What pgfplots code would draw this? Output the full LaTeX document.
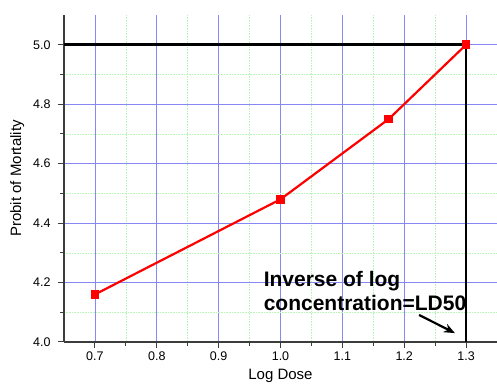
\documentclass[border=0pt]{standalone}
\usepackage{pgfplots}
\pgfplotsset{compat=1.18}
\usetikzlibrary{arrows.meta}
\usepackage{fontspec}
\setmainfont{Liberation Sans}
\definecolor{majgrid}{RGB}{135,135,245}
\definecolor{mingrid}{RGB}{185,245,185}
\definecolor{axgray}{RGB}{60,60,60}
\begin{document}
\begin{tikzpicture}[x=1pt,y=1pt]
\begin{axis}[
  at={(0,0)}, anchor=south west,
  scale only axis, width=433pt, height=327pt,
  xmin=0.65, xmax=1.35, ymin=4.0, ymax=5.1,
  xtick={0.7,0.8,...,1.31}, ytick={4.0,4.2,...,5.01},
  minor x tick num=1, minor y tick num=1,
  axis lines*=left,
  axis line style={axgray, line width=1.4pt},
  tick style={axgray, line width=1pt},
  tick align=outside,
  major tick length=6pt, minor tick length=4pt,
  grid=both,
  major grid style={majgrid, line width=0.6pt, solid},
  minor grid style={mingrid, line width=0.6pt, densely dotted},
  tick label style={font=\fontsize{12.5}{14}\selectfont},
  yticklabel style={xshift=-4pt},
  /pgf/number format/.cd, fixed, fixed zerofill, precision=1, assume math mode=true,
  /pgfplots/.cd,
  xlabel={Log Dose}, ylabel={Probit of Mortality},
  label style={font=\fontsize{15}{17}\selectfont},
  xlabel style={yshift=-2pt},
  ylabel shift=2pt,
  clip=false,
]
\addplot[red, line width=2.2pt, mark=square*, mark size=3.2pt, mark options={solid}] coordinates {
(0.7,4.16) (1.0,4.48) (1.175,4.75) (1.3,5.0)};
\addplot[black, line width=2.8pt, no marks] coordinates {(0.65,5.0) (1.3,5.0) (1.3,4.0)};
\node[anchor=base west, font=\bfseries\fontsize{21}{24}\selectfont, inner sep=0pt] at (axis cs:0.9726,4.1852) {Inverse of log};
\node[anchor=base west, font=\bfseries\fontsize{21}{24}\selectfont, inner sep=0pt] at (axis cs:0.9726,4.1044) {concentration=LD50};
\draw[-{Stealth[length=11pt,width=9pt]}, line width=2.2pt, black] (axis cs:1.224,4.091) -- (axis cs:1.282,4.03);
\end{axis}
\pgfresetboundingbox
\path[use as bounding box] (-64pt,-45pt) rectangle (433pt,342pt);
\end{tikzpicture}
\end{document}
